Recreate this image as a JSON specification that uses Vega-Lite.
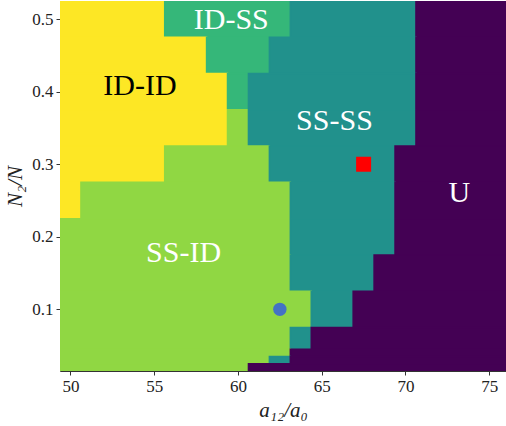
{
  "$schema": "https://vega.github.io/schema/vega-lite/v6.json",
  "width": 446,
  "height": 370,
  "autosize": {"type": "none"},
  "padding": {"left": 60, "top": 1, "right": 0, "bottom": 55},
  "config": {
    "view": {"stroke": null},
    "axis": {
      "labelFont": "Liberation Serif",
      "labelFontSize": 17,
      "labelColor": "#222222",
      "titleFont": "Liberation Serif",
      "titleFontStyle": "italic",
      "titleFontWeight": "normal",
      "titleFontSize": 21,
      "titleColor": "#222222",
      "domainColor": "#333333",
      "tickColor": "#333333",
      "tickSize": 4,
      "labelPadding": 3,
      "grid": false,
      "zindex": 1
    }
  },
  "layer": [
    {
      "data": {
        "values": [
          {"a0": 49.375, "a1": 55.625, "n0": 0.475, "n1": 0.525, "phase": "ID-ID"},
          {"a0": 55.625, "a1": 63.125, "n0": 0.475, "n1": 0.525, "phase": "ID-SS"},
          {"a0": 63.125, "a1": 70.625, "n0": 0.475, "n1": 0.525, "phase": "SS-SS"},
          {"a0": 70.625, "a1": 76.875, "n0": 0.475, "n1": 0.525, "phase": "U"},

          {"a0": 49.375, "a1": 58.125, "n0": 0.425, "n1": 0.475, "phase": "ID-ID"},
          {"a0": 58.125, "a1": 61.875, "n0": 0.425, "n1": 0.475, "phase": "ID-SS"},
          {"a0": 61.875, "a1": 70.625, "n0": 0.425, "n1": 0.475, "phase": "SS-SS"},
          {"a0": 70.625, "a1": 76.875, "n0": 0.425, "n1": 0.475, "phase": "U"},

          {"a0": 49.375, "a1": 59.375, "n0": 0.375, "n1": 0.425, "phase": "ID-ID"},
          {"a0": 59.375, "a1": 60.625, "n0": 0.375, "n1": 0.425, "phase": "ID-SS"},
          {"a0": 60.625, "a1": 70.625, "n0": 0.375, "n1": 0.425, "phase": "SS-SS"},
          {"a0": 70.625, "a1": 76.875, "n0": 0.375, "n1": 0.425, "phase": "U"},

          {"a0": 49.375, "a1": 59.375, "n0": 0.325, "n1": 0.375, "phase": "ID-ID"},
          {"a0": 59.375, "a1": 60.625, "n0": 0.325, "n1": 0.375, "phase": "SS-ID"},
          {"a0": 60.625, "a1": 70.625, "n0": 0.325, "n1": 0.375, "phase": "SS-SS"},
          {"a0": 70.625, "a1": 76.875, "n0": 0.325, "n1": 0.375, "phase": "U"},

          {"a0": 49.375, "a1": 55.625, "n0": 0.275, "n1": 0.325, "phase": "ID-ID"},
          {"a0": 55.625, "a1": 61.875, "n0": 0.275, "n1": 0.325, "phase": "SS-ID"},
          {"a0": 61.875, "a1": 69.375, "n0": 0.275, "n1": 0.325, "phase": "SS-SS"},
          {"a0": 69.375, "a1": 76.875, "n0": 0.275, "n1": 0.325, "phase": "U"},

          {"a0": 49.375, "a1": 50.625, "n0": 0.225, "n1": 0.275, "phase": "ID-ID"},
          {"a0": 50.625, "a1": 63.125, "n0": 0.225, "n1": 0.275, "phase": "SS-ID"},
          {"a0": 63.125, "a1": 69.375, "n0": 0.225, "n1": 0.275, "phase": "SS-SS"},
          {"a0": 69.375, "a1": 76.875, "n0": 0.225, "n1": 0.275, "phase": "U"},

          {"a0": 49.375, "a1": 63.125, "n0": 0.175, "n1": 0.225, "phase": "SS-ID"},
          {"a0": 63.125, "a1": 69.375, "n0": 0.175, "n1": 0.225, "phase": "SS-SS"},
          {"a0": 69.375, "a1": 76.875, "n0": 0.175, "n1": 0.225, "phase": "U"},

          {"a0": 49.375, "a1": 63.125, "n0": 0.125, "n1": 0.175, "phase": "SS-ID"},
          {"a0": 63.125, "a1": 68.125, "n0": 0.125, "n1": 0.175, "phase": "SS-SS"},
          {"a0": 68.125, "a1": 76.875, "n0": 0.125, "n1": 0.175, "phase": "U"},

          {"a0": 49.375, "a1": 64.375, "n0": 0.075, "n1": 0.125, "phase": "SS-ID"},
          {"a0": 64.375, "a1": 66.875, "n0": 0.075, "n1": 0.125, "phase": "SS-SS"},
          {"a0": 66.875, "a1": 76.875, "n0": 0.075, "n1": 0.125, "phase": "U"},

          {"a0": 49.375, "a1": 63.125, "n0": 0.045, "n1": 0.075, "phase": "SS-ID"},
          {"a0": 63.125, "a1": 64.375, "n0": 0.045, "n1": 0.075, "phase": "SS-SS"},
          {"a0": 64.375, "a1": 76.875, "n0": 0.045, "n1": 0.075, "phase": "U"},

          {"a0": 49.375, "a1": 63.125, "n0": 0.035, "n1": 0.045, "phase": "SS-ID"},
          {"a0": 63.125, "a1": 76.875, "n0": 0.035, "n1": 0.045, "phase": "U"},

          {"a0": 49.375, "a1": 61.875, "n0": 0.025, "n1": 0.035, "phase": "SS-ID"},
          {"a0": 61.875, "a1": 63.125, "n0": 0.025, "n1": 0.035, "phase": "SS-SS"},
          {"a0": 63.125, "a1": 76.875, "n0": 0.025, "n1": 0.035, "phase": "U"},

          {"a0": 49.375, "a1": 60.625, "n0": 0.015, "n1": 0.025, "phase": "SS-ID"},
          {"a0": 60.625, "a1": 76.875, "n0": 0.015, "n1": 0.025, "phase": "U"}
        ]
      },
      "mark": {"type": "rect", "clip": true, "strokeWidth": 1.5},
      "encoding": {
        "x": {
          "field": "a0",
          "type": "quantitative",
          "scale": {"domain": [49.375, 76.0], "nice": false, "zero": false},
          "axis": {"values": [50, 55, 60, 65, 70, 75], "title": "a₁₂/a₀", "titlePadding": 5}
        },
        "x2": {"field": "a1"},
        "y": {
          "field": "n0",
          "type": "quantitative",
          "scale": {"domain": [0.015, 0.525], "nice": false, "zero": false},
          "axis": {"values": [0.1, 0.2, 0.3, 0.4, 0.5], "format": ".1f", "title": "N₂/N", "titlePadding": 6}
        },
        "y2": {"field": "n1"},
        "color": {
          "field": "phase",
          "type": "nominal",
          "scale": {
            "domain": ["U", "SS-SS", "ID-SS", "SS-ID", "ID-ID"],
            "range": ["#440154", "#21918c", "#35b779", "#90d743", "#fde725"]
          },
          "legend": null
        },
        "stroke": {
          "field": "phase",
          "type": "nominal",
          "scale": {
            "domain": ["U", "SS-SS", "ID-SS", "SS-ID", "ID-ID"],
            "range": ["#440154", "#21918c", "#35b779", "#90d743", "#fde725"]
          },
          "legend": null
        }
      }
    },
    {
      "mark": {"type": "rule", "color": "#333333", "strokeWidth": 1},
      "encoding": {"y": {"datum": 0.525, "type": "quantitative"}}
    },
    {
      "data": {
        "values": [
          {"a": 67.5, "n": 0.3, "kind": "red square"},
          {"a": 62.5, "n": 0.1, "kind": "blue circle"}
        ]
      },
      "mark": {"type": "point", "filled": true, "opacity": 1},
      "encoding": {
        "x": {"field": "a", "type": "quantitative"},
        "y": {"field": "n", "type": "quantitative"},
        "shape": {"field": "kind", "type": "nominal", "scale": {"domain": ["red square", "blue circle"], "range": ["square", "circle"]}, "legend": null},
        "color": {"field": "kind", "type": "nominal", "scale": {"domain": ["red square", "blue circle"], "range": ["#ff0000", "#4472c4"]}, "legend": null},
        "size": {"field": "kind", "type": "nominal", "scale": {"domain": ["red square", "blue circle"], "range": [225, 180]}, "legend": null}
      }
    },
    {
      "data": {
        "values": [
          {"a": 54.15, "n": 0.408, "label": "ID-ID"},
          {"a": 59.6, "n": 0.4986, "label": "ID-SS"},
          {"a": 65.76, "n": 0.36, "label": "SS-SS"},
          {"a": 73.21, "n": 0.2603, "label": "U"},
          {"a": 56.75, "n": 0.178, "label": "SS-ID"}
        ]
      },
      "mark": {"type": "text", "font": "Liberation Serif", "fontSize": 30, "align": "center", "baseline": "middle"},
      "encoding": {
        "x": {"field": "a", "type": "quantitative"},
        "y": {"field": "n", "type": "quantitative"},
        "text": {"field": "label"},
        "color": {"field": "label", "type": "nominal", "scale": {"domain": ["ID-ID", "ID-SS", "SS-SS", "U", "SS-ID"], "range": ["#000000", "#ffffff", "#ffffff", "#ffffff", "#ffffff"]}, "legend": null}
      }
    }
  ],
  "resolve": {"scale": {"color": "independent", "size": "independent", "shape": "independent"}}
}
